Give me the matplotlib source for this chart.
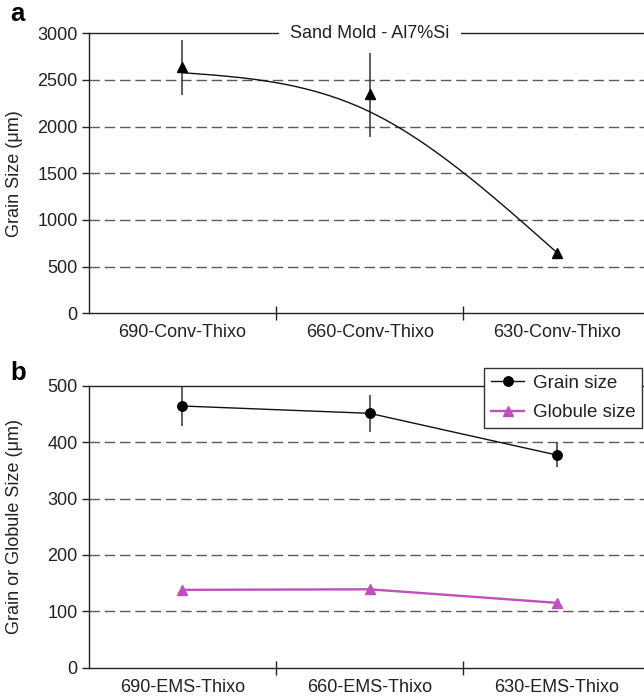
import numpy as np
import matplotlib
matplotlib.use("Agg")
import matplotlib.pyplot as plt

plt.rcParams["font.family"] = ["Liberation Sans", "DejaVu Sans"]

# ---- data -------------------------------------------------------------
conv_labels = ["690-Conv-Thixo", "660-Conv-Thixo", "630-Conv-Thixo"]
conv_grain = [2636, 2346, 650]
conv_grain_err = [292, 452, 0]
conv_trend = [2578, 2160, 650]          # nodes of the smoothed trend curve

ems_labels = ["690-EMS-Thixo", "660-EMS-Thixo", "630-EMS-Thixo"]
ems_grain = [464, 451, 377]
ems_grain_err = [36, 33, 21]
ems_globule = [138, 139, 115]

conv_yticks = [0, 500, 1000, 1500, 2000, 2500, 3000]
ems_yticks = [0, 100, 200, 300, 400, 500]

MAGENTA = "#c24fbd"
GRID = "#5a5a5a"
FS = 13


def natural_spline(x, y, n=200):
    """Natural cubic spline through (x, y), sampled at n points."""
    x = np.asarray(x, float)
    y = np.asarray(y, float)
    k = len(x)
    h = np.diff(x)
    A = np.zeros((k, k))
    r = np.zeros(k)
    A[0, 0] = A[-1, -1] = 1.0
    for i in range(1, k - 1):
        A[i, i - 1] = h[i - 1]
        A[i, i] = 2 * (h[i - 1] + h[i])
        A[i, i + 1] = h[i]
        r[i] = 6 * ((y[i + 1] - y[i]) / h[i] - (y[i] - y[i - 1]) / h[i - 1])
    M = np.linalg.solve(A, r)
    xs = np.linspace(x[0], x[-1], n)
    ys = np.empty_like(xs)
    for j, xv in enumerate(xs):
        i = min(np.searchsorted(x, xv, side="right") - 1, k - 2)
        t = xv - x[i]
        hi = h[i]
        a = (y[i + 1] - y[i]) / hi - hi * (2 * M[i] + M[i + 1]) / 6
        ys[j] = (y[i] + a * t + M[i] / 2 * t ** 2
                 + (M[i + 1] - M[i]) / (6 * hi) * t ** 3)
    return xs, ys


W, H = 644, 698
fig = plt.figure(figsize=(W / 100, H / 100), dpi=100)


def px_axes(left, top, right, bottom):
    return fig.add_axes([left / W, 1 - bottom / H, (right - left) / W,
                         (bottom - top) / H])


def style_axes(ax, labels, yticks, ylabel):
    x = np.arange(len(labels))
    ax.set_xlim(-0.5, len(labels) - 0.5)
    ax.set_ylim(yticks[0], yticks[-1])
    ax.set_yticks(yticks)
    ax.set_yticklabels([str(v) for v in yticks])
    ax.set_xticks(x[:-1] + 0.5)
    ax.set_xticklabels([])
    ax.set_xticks(x, minor=True)
    ax.set_xticklabels(labels, minor=True)
    ax.tick_params(axis="x", which="major", direction="inout", length=10,
                   width=1.0, color="#222222")
    ax.tick_params(axis="x", which="minor", length=0, pad=8,
                   labelsize=FS, labelcolor="#222222")
    ax.tick_params(axis="y", direction="out", length=5, width=1.0,
                   pad=3, labelsize=FS, labelcolor="#222222", color="#222222")
    for s in ("left", "bottom", "top"):
        ax.spines[s].set_color("#222222")
        ax.spines[s].set_linewidth(1.0)
    ax.spines["right"].set_visible(False)
    for v in yticks[1:-1]:
        ax.axhline(v, color=GRID, lw=1.0, ls=(0, (7.5, 3.5)), zorder=1)
    ax.set_ylabel(ylabel, fontsize=FS, color="#222222", va="center")
    ax.yaxis.set_label_coords((14.5 - 88.7) / 562, 0.5)
    return x


# ---- panel a ----------------------------------------------------------
ax1 = px_axes(88.7, 33.3, 650.6, 313.3)
xa = style_axes(ax1, conv_labels, conv_yticks, "Grain Size (\u03bcm)")
ax1.errorbar(xa, conv_grain, yerr=conv_grain_err, fmt="none",
             ecolor="#333333", elinewidth=1.1, capsize=0, zorder=3)
xs, ys = natural_spline(xa, conv_trend)
ax1.plot(xs, ys, color="#111111", lw=1.0, zorder=3)
ax1.plot(xa, conv_grain, ls="none", marker="^", ms=7.5, color="black",
         zorder=4)
ax1.text(0.5, 1.0, "Sand Mold - Al7%Si", transform=ax1.transAxes,
         ha="center", va="center", fontsize=FS, color="#222222",
         bbox=dict(facecolor="white", edgecolor="none", pad=8), zorder=5)

# ---- panel b ----------------------------------------------------------
ax2 = px_axes(88.7, 385.7, 650.6, 667.7)
xb = style_axes(ax2, ems_labels, ems_yticks, "Grain or Globule Size (\u03bcm)")
ax2.errorbar(xb, ems_grain, yerr=ems_grain_err, fmt="none",
             ecolor="#333333", elinewidth=1.1, capsize=0, zorder=3)
ax2.plot(xb, ems_grain, color="#111111", lw=1.0, marker="o", ms=6.8,
         mfc="black", mec="black", label="Grain size", zorder=4)
ax2.plot(xb, ems_globule, color=MAGENTA, lw=1.7, marker="^", ms=7.5,
         mfc=MAGENTA, mec=MAGENTA, label="Globule size", zorder=4)
leg = ax2.legend(loc="upper left", bbox_to_anchor=(484.3 / W, 1 - 367.7 / H),
                 bbox_transform=fig.transFigure, borderaxespad=0,
                 fontsize=13.5, frameon=True, fancybox=False, framealpha=1,
                 edgecolor="#333333", borderpad=0.38, handlelength=1.75,
                 handletextpad=0.45, labelspacing=0.65)
leg.get_frame().set_linewidth(1.0)
for t in leg.get_texts():
    t.set_color("#222222")

# ---- panel letters ----------------------------------------------------
fig.text(10 / W, 1 - 21 / H, "a", fontsize=18.5, fontweight="bold",
         va="baseline", ha="left")
fig.text(10 / W, 1 - 380 / H, "b", fontsize=18.5, fontweight="bold",
         va="baseline", ha="left")

fig.savefig("out.png", dpi=100)
